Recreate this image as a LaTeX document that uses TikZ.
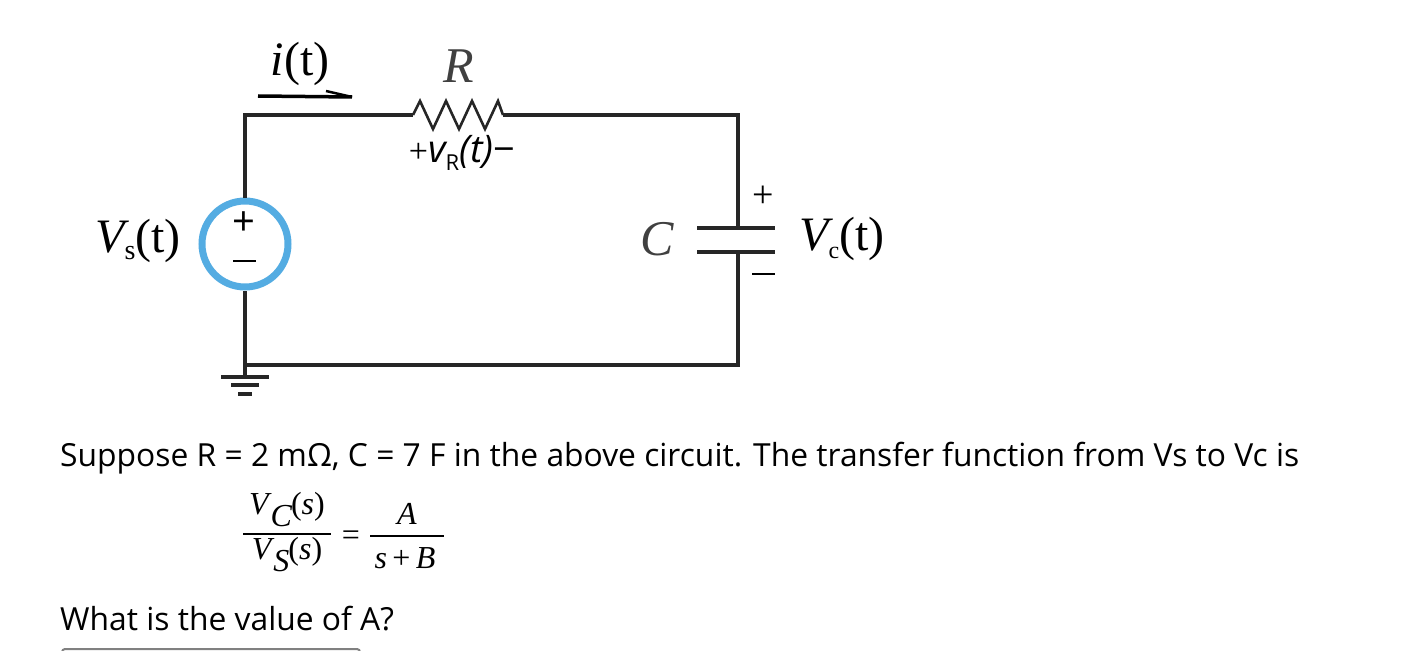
\documentclass[tikz,border=0pt]{standalone}
\usepackage{fontspec}
\newfontfamily\osans{Open Sans}
\newfontfamily\tnr{Liberation Serif}
\definecolor{srcblue}{RGB}{84,172,226}
\begin{document}
\begin{tikzpicture}[x=1pt,y=-1pt,
  wire/.style={line width=3.2pt,color=black!85},
  lbl/.style={inner sep=0pt},
  txt/.style={inner sep=0pt,anchor=base west,font=\osans\fontsize{31.8}{36}\selectfont}]
\useasboundingbox (0,0) rectangle (1404,650);
\coordinate (tl) at (245,115);
\coordinate (bl) at (245,365);
\coordinate (tr) at (738,115);
\coordinate (br) at (738,365);
\coordinate (ra) at (413,115);
\coordinate (rb) at (503,115);
\coordinate (ct) at (738,228);
\coordinate (cb) at (738,252);
\node[circle,draw=srcblue,line width=7pt,minimum size=86pt,inner sep=0pt] (src) at (245,244) {};
\draw[wire] (src.north) -- (tl) -- (ra);
\draw[wire,line width=2.6pt] (ra) -- ++(7,-14) -- ++(13,28) -- ++(13,-28) -- ++(13,28) -- ++(13,-28) -- ++(13,28) -- ++(13,-28) -- (rb);
\draw[wire] (rb) -- (tr) -- (ct);
\draw[wire] (cb) -- (br) -- (bl) -- (src.south);
\draw[wire] (697,228) -- (775,228);
\draw[wire] (697,252) -- (775,252);
\coordinate (g) at (245,377);
\draw[wire] (bl) -- (g);
\draw[wire] (221,377) -- (269,377);
\draw[wire] (231,385) -- (259,385);
\draw[wire] (238,394) -- (252,394);
\node[lbl,font=\osans\fontsize{40}{40}\selectfont] (sp) at (244,224) {+};
\draw[line width=2.2pt] (233,261) -- (256,261);
\coordinate (ia) at (258,96);
\coordinate (ib) at (352,97);
\draw[line width=3.5pt] (ia) -- (ib);
\draw[line width=2.5pt] (ib) -- (326,91);
\node[lbl,font=\tnr\fontsize{48}{48}\selectfont] (it) at (300,64) {\itshape i\upshape(t)};
\node[lbl,font=\tnr\fontsize{50}{50}\selectfont\itshape,color=black!75] (R) at (459,66) {R};
\node[lbl,font=\osans\fontsize{38}{38}\selectfont] (vr) at (462,153) {\tnr\fontsize{34}{34}\selectfont+\osans\fontsize{38}{38}\selectfont\itshape v\raisebox{-8pt}{\upshape\fontsize{22}{22}\selectfont R}(t)\upshape−};
\node[lbl,font=\tnr\fontsize{48}{48}\selectfont] (vs) at (138,241) {\itshape V\raisebox{-7pt}{\upshape\fontsize{28}{28}\selectfont s}\upshape(t)};
\node[lbl,font=\tnr\fontsize{50}{50}\selectfont\itshape,color=black!75] (C) at (657,239) {C};
\node[lbl,font=\tnr\fontsize{48}{48}\selectfont] (vc) at (842,239) {\itshape V\raisebox{-8pt}{\upshape\fontsize{24}{24}\selectfont c}\upshape(t)};
\node[lbl,font=\tnr\fontsize{38}{38}\selectfont] (cp) at (763,197) {+};
\draw[line width=2.4pt] (752,274) -- (775,274);
\node[txt] (q1) at (60,466) {Suppose R = 2 mΩ, C = 7 F in the above circuit. The transfer function from Vs to Vc is};
\node[lbl,font=\tnr\fontsize{32}{32}\selectfont\itshape] (num) at (287,510) {V\kern2pt\raisebox{-12pt}{C}\kern-1pt\upshape(\itshape s\upshape)};
\node[lbl,font=\tnr\fontsize{32}{32}\selectfont\itshape] (den) at (287,555) {V\kern2pt\raisebox{-12pt}{S}\kern-1pt\upshape(\itshape s\upshape)};
\draw[line width=1.5pt] (243,534) -- (331,534);
\node[lbl,font=\tnr\fontsize{32}{32}\selectfont] (eq) at (351,538) {=};
\node[lbl,font=\tnr\fontsize{32}{32}\selectfont\itshape] (A) at (407,514) {A};
\node[lbl,font=\tnr\fontsize{32}{32}\selectfont\itshape] (sb) at (405,558) {s\upshape\,+\,\itshape B};
\draw[line width=1.5pt] (370,536) -- (444,536);
\node[txt] (q2) at (60,630) {What is the value of A?};
\draw[gray,line width=2pt,rounded corners=3pt] (62,652) -- (62,649) -- (360,649) -- (360,652);
\end{tikzpicture}
\end{document}
